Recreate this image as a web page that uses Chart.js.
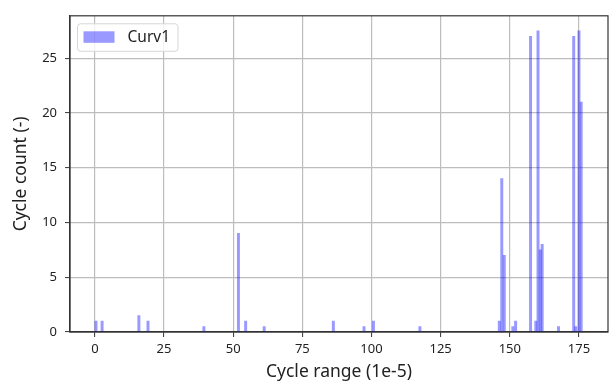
<!DOCTYPE html>
<html>
<head>
<meta charset="utf-8">
<script src="https://cdn.jsdelivr.net/npm/chart.js@4.4.1/dist/chart.umd.min.js"></script>
<style>
  html, body { margin: 0; padding: 0; background: #fff; }
  #c { display: block; }
</style>
</head>
<body>
<canvas id="c" width="614" height="385"></canvas>
<script>
// values (bin centre in 1e-5, cycle count)
const binCenters = [0.4, 2.6, 15.9, 19.2, 39.4, 51.9, 54.5, 61.2, 86.2, 97.3, 100.7, 117.5,
  146.2, 147.1, 148.0, 151.1, 152.1, 157.5, 159.4, 160.2, 161.0, 161.7, 167.6,
  173.1, 173.85, 175.0, 175.8];
const counts = [1, 1, 1.5, 1, 0.5, 9, 1, 0.5, 1, 0.5, 1, 0.5,
  1, 14, 7, 0.5, 1, 27, 1, 27.5, 7.5, 8, 0.5,
  27, 0.5, 27.5, 21];
const xTicks = [0, 25, 50, 75, 100, 125, 150, 175];
const yTicks = [0, 5, 10, 15, 20, 25];
const seriesName = 'Curv1';

const barColor = 'rgba(0,0,255,0.4)';
const gridColor = '#bdbdbd';
const axisColor = '#333';
const fontFam = '"Noto Sans", "DejaVu Sans", sans-serif';

Chart.defaults.font.family = fontFam;
Chart.defaults.color = '#222';

// box round the plot + legend inside upper left
const frame = {
  id: 'frame',
  afterDraw(chart){
    const {ctx, chartArea: a} = chart;
    ctx.save();
    ctx.strokeStyle = axisColor; ctx.lineWidth = 1.2;
    ctx.strokeRect(a.left, a.top, a.right - a.left, a.bottom - a.top);

    // legend
    const lx = a.left + 7.5, ly = a.top + 8, lw = 100.5, lh = 27.5;
    ctx.beginPath();
    ctx.roundRect(lx, ly, lw, lh, 3);
    ctx.fillStyle = 'rgba(255,255,255,0.8)'; ctx.fill();
    ctx.strokeStyle = '#d6d6d6'; ctx.lineWidth = 1; ctx.stroke();
    ctx.fillStyle = barColor;
    ctx.fillRect(lx + 6, ly + 7.5, 31, 11.5);
    ctx.fillStyle = '#222';
    ctx.font = '15.5px ' + fontFam;
    ctx.textBaseline = 'middle';
    ctx.fillText(seriesName, lx + 50, ly + lh/2 + 0.5);
    ctx.restore();
  }
};

new Chart(document.getElementById('c'), {
  type: 'bar',
  data: {
    datasets: [{
      label: seriesName,
      data: binCenters.map((x, i) => ({x, y: counts[i]})),
      backgroundColor: barColor,
      borderWidth: 0,
      barThickness: 2.3
    }]
  },
  options: {
    responsive: false,
    animation: false,
    devicePixelRatio: 1,
    layout: {padding: {top: 10, right: 6, left: 0, bottom: 0}},
    plugins: {legend: {display: false}, tooltip: {enabled: false}},
    scales: {
      x: {
        type: 'linear',
        min: -9, max: 185.5,
        offset: false,
        z: 1,
        afterBuildTicks: s => { s.ticks = xTicks.map(v => ({value: v})); },
        afterFit: s => { s.height = 53; },
        ticks: {font: {size: 13}, padding: 4, maxRotation: 0, color: '#222'},
        grid: {offset: false, color: gridColor, lineWidth: 1.2, tickLength: 5, tickColor: axisColor, tickWidth: 1},
        border: {color: axisColor, width: 1.2},
        title: {display: true, text: 'Cycle range (1e-5)', font: {size: 17.5}, color: '#222', padding: {bottom: 2, top: 0}}
      },
      y: {
        type: 'linear',
        min: 0, max: 28.875,
        z: 1,
        afterBuildTicks: s => { s.ticks = yTicks.map(v => ({value: v})); },
        afterFit: s => { s.width = 70; },
        ticks: {font: {size: 13}, padding: 8, color: '#222'},
        grid: {offset: false, color: gridColor, lineWidth: 1.2, tickLength: 5, tickColor: axisColor, tickWidth: 1},
        border: {color: axisColor, width: 1.2},
        title: {display: true, text: 'Cycle count (-)', font: {size: 17.5}, color: '#222', padding: {top: 11, bottom: 0}}
      }
    }
  },
  plugins: [frame]
});
</script>
</body>
</html>
